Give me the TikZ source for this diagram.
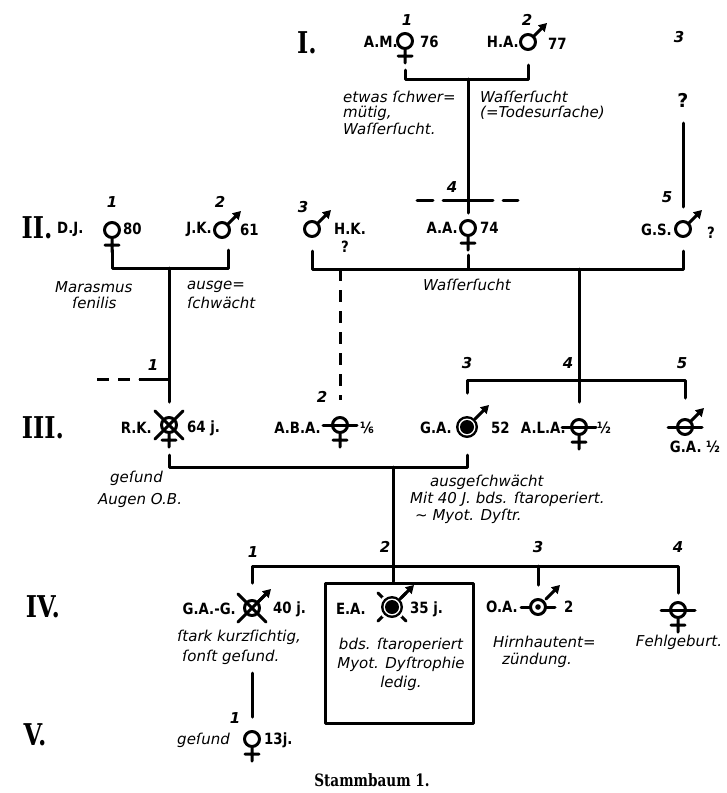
\documentclass[tikz,border=0pt]{standalone}
\usepackage{fontspec}
\newfontfamily\namefont{DejaVu Sans}
\newfontfamily\lblfont[FakeStretch=0.86]{DejaVu Sans}
\newfontfamily\genfont[FakeStretch=0.8]{DejaVu Serif}
\usetikzlibrary{arrows.meta}

\begin{document}
\begin{tikzpicture}[x=1pt, y=-1pt, line join=round, line cap=round, >={Triangle[length=8pt,width=9pt]},
    ln/.style={line width=3pt},
    dashln/.style={line width=3pt, line cap=butt, dash pattern=on 12pt off 9pt},
    lbl/.style={font=\lblfont\bfseries\fontsize{15.5}{16}\selectfont, inner sep=0pt},
    nr/.style={font=\namefont\bfseries\itshape\fontsize{15}{15}\selectfont, inner sep=0pt},
    note/.style={font=\namefont\itshape\fontsize{15}{16}\selectfont, inner sep=0pt, anchor=west},
    gen/.style={font=\genfont\bfseries\fontsize{30}{30}\selectfont, inner sep=0pt},
    female/.pic={\draw[ln] (0,0) circle (7.5) (0,7.5) -- (0,22) (-7,15) -- (7,15);},
    male/.pic={\draw[ln] (0,0) circle (7.5); \draw[ln,->] (5.5,-5.5) -- (19,-19);},
    marrow/.pic={\draw[ln,->] (8,-8) -- (22,-22);},
    blackring/.pic={\fill (0,0) circle (11); \fill[white] (0,0) circle (8.5); \fill (0,0) circle (7);},
    xout/.pic={\draw[ln] (-14,-14) -- (14,14) (-14,14) -- (14,-14);},
    hbar/.pic={\draw[ln] (-17,0) -- (17,0);}]
    \useasboundingbox (0,0) rectangle (727,793);

    % generations
    \foreach \t/\x/\y [count=\k] in {I./307/43, II./37/228, III./43/428, IV./43/607, V./35/735}
        \node[gen] (gen\k) at (\x,\y) {\t};

    % persons
    \coordinate (I1) at (405,41);
    \coordinate (I2) at (528,42);
    \coordinate (II1) at (112,230);
    \coordinate (II2) at (222,230);
    \coordinate (II3) at (312,229);
    \coordinate (II4) at (468,228);
    \coordinate (II5) at (683,229);
    \coordinate (III1) at (169,425);
    \coordinate (III2) at (340,425);
    \coordinate (III3) at (467,427);
    \coordinate (III4) at (579,427);
    \coordinate (III5) at (685,427);
    \coordinate (IV1) at (252,608);
    \coordinate (IV2) at (392,607);
    \coordinate (IV3) at (538,607);
    \coordinate (IV4) at (678,610);
    \coordinate (V1) at (252,739);
    % bars
    \coordinate (m1) at (468,79);
    \coordinate (m2) at (169,268);
    \coordinate (s2) at (579,269);
    \coordinate (d2) at (340,269);
    \coordinate (s3) at (579,380);
    \coordinate (c1) at (169,379);
    \coordinate (m3) at (393,467);
    \coordinate (m4) at (393,566);

    \pic at (I1) {female};
    \pic at (I2) {male};
    \pic at (II1) {female};
    \pic at (II2) {male};
    \pic at (II3) {male};
    \pic at (II4) {female};
    \pic at (II5) {male};
    \pic at (III1) {xout}; \pic at (III1) {female};
    \pic at (III2) {female}; \pic at (III2) {hbar};
    \pic at (III3) {blackring}; \pic at (III3) {marrow};
    \pic at (III4) {female}; \pic at (III4) {hbar};
    \pic at (III5) {male}; \pic at (III5) {hbar};
    \pic at (IV1) {xout}; \pic at (IV1) {male};
    \pic at (IV2) {xout}; \fill[white] (IV2) circle (13.5);
    \pic at (IV2) {blackring}; \pic at (IV2) {marrow};
    \draw[ln] (IV3) circle (7.5); \fill (IV3) circle (2.8);
    \draw[ln] ([xshift=-17pt]IV3) -- ([xshift=-7.5pt]IV3) ([xshift=7.5pt]IV3) -- ([xshift=17pt]IV3);
    \pic at (IV3) {marrow};
    \pic at (IV4) {female}; \pic at (IV4) {hbar};
    \pic at (V1) {female};

    \node[draw, line width=3pt, minimum width=148pt, minimum height=140pt, inner sep=0pt] (box) at (399.5,653) {};

    % lines
    \draw[ln] ([yshift=-29pt]I1) |- (m1) -| ([yshift=-23pt]I2);
    \draw[ln] (m1) -- ([yshift=15pt]II4);
    \foreach \a/\b in {417/433, 443/493, 503/518}
        \draw[ln] (\a,200) -- (\b,200);
    \draw[ln] ([yshift=-20pt]II1) |- (m2) -| ([shift={(6pt,-20pt)}]II2);
    \draw[ln] ([yshift=-22pt]II3) |- (s2) -| ([yshift=-22pt]II5);
    \draw[ln] ([yshift=-27pt]II4) -- (II4 |- s2);
    \draw[ln] (m2) -- ([yshift=23pt]III1);
    \draw[dashln] (c1) ++(-72,0) -- ++(43,0);
    \draw[ln] (c1) -- ++(-29,0);
    \draw[dashln] (d2) -- ([yshift=25pt]III2);
    \draw[ln] (s2) -- (s3);
    \draw[ln] ([yshift=34pt]III3) |- (s3) -| ([yshift=29pt]III5);
    \draw[ln] (s3) -- ([yshift=25pt]III4);
    \draw[ln] ([yshift=-30pt]III1) |- (m3) -| ([yshift=-28pt]III3);
    \draw[ln] (m3) -- (box.north -| m3);
    \draw[ln] ([yshift=25pt]IV1) |- (m4) -| ([yshift=17pt]IV4);
    \draw[ln] (IV3 |- m4) -- ([yshift=22pt]IV3);
    \draw[ln] ([yshift=-65pt]IV1) -- ([yshift=22pt]V1);

    % generation I
    \node[nr] (I1k) at (407,20) {1};
    \node[lbl, anchor=east] (I1n) at (398,42) {A.M.};
    \node[lbl, anchor=west] (I1a) at (420,42) {76};
    \node[nr] (I2k) at (527,20) {2};
    \node[lbl, anchor=east] (I2n) at (519,42) {H.A.};
    \node[lbl, anchor=west] (I2a) at (548,44) {77};
    \node[nr] (I3k) at (679,37) {3};
    \node[lbl, font=\namefont\bfseries\fontsize{19}{19}\selectfont] (I3q) at (683,100) {?};
    \draw[ln] (683,123) -- ([yshift=22pt]II5);
    \node[note] (I1t1) at (343,97) {etwas ſchwer=};
    \node[note] (I1t2) at (343,113) {mütig,};
    \node[note] (I1t3) at (343,129) {Waſſerſucht.};
    \node[note] (I2t1) at (480,97) {Waſſerſucht};
    \node[note] (I2t2) at (480,113) {(=Todesurſache)};

    % generation II
    \node[lbl, anchor=west] (II1n) at (57,229) {D.J.};
    \node[nr] (II1k) at (112,202) {1};
    \node[lbl, anchor=west] (II1a) at (123,229) {80};
    \node[nr] (II2k) at (220,202) {2};
    \node[lbl, anchor=east] (II2n) at (212,229) {J.K.};
    \node[lbl, anchor=west] (II2a) at (240,230) {61};
    \node[note] (II1t1) at (55,287) {Marasmus};
    \node[note] (II1t2) at (72,303) {ſenilis};
    \node[note] (II2t1) at (187,287) {ausge=};
    \node[note] (II2t2) at (187,303) {ſchwächt};
    \node[nr] (II3k) at (303,207) {3};
    \node[lbl, anchor=west] (II3n) at (334,229) {H.K.};
    \node[lbl] (II3q) at (345,247) {?};
    \node[nr] (II4k) at (452,187) {4};
    \node[lbl, anchor=east] (II4n) at (458,228) {A.A.};
    \node[lbl, anchor=west] (II4a) at (480,228) {74};
    \node[note, anchor=center] (II4t) at (467,285) {Waſſerſucht};
    \node[nr] (II5k) at (667,197) {5};
    \node[lbl, anchor=east] (II5n) at (672,230) {G.S.};
    \node[lbl] (II5q) at (711,233) {?};

    % generation III
    \node[nr] (III1k) at (153,365) {1};
    \node[lbl, anchor=east] (III1n) at (152,428) {R.K.};
    \node[lbl, anchor=west] (III1a) at (187,428) {64 j.};
    \node[note] (III1t1) at (110,478) {geſund};
    \node[note] (III1t2) at (98,500) {Augen O.B.};
    \node[nr] (III2k) at (322,397) {2};
    \node[lbl, anchor=east] (III2n) at (321,428) {A.B.A.};
    \node[lbl, anchor=west] (III2a) at (360,428) {⅙};
    \node[nr] (III3k) at (467,363) {3};
    \node[lbl, anchor=east] (III3n) at (452,428) {G.A.};
    \node[lbl, anchor=west] (III3a) at (491,428) {52};
    \node[note] (III3t1) at (430,482) {ausgeſchwächt};
    \node[note] (III3t2) at (410,499) {Mit 40 J. bds. ſtaroperiert.};
    \node[note] (III3t3) at (415,516) {\textasciitilde{} Myot. Dyſtr.};
    \node[nr] (III4k) at (568,363) {4};
    \node[lbl, anchor=east] (III4n) at (566,428) {A.L.A.};
    \node[lbl, anchor=west] (III4a) at (597,428) {½};
    \node[nr] (III5k) at (682,363) {5};
    \node[lbl] (III5n) at (695,447) {G.A. ½};

    % generation IV
    \node[nr] (IV1k) at (253,552) {1};
    \node[lbl, anchor=east] (IV1n) at (236,609) {G.A.-G.};
    \node[lbl, anchor=west] (IV1a) at (273,609) {40 j.};
    \node[note] (IV1t1) at (177,637) {ſtark kurzſichtig,};
    \node[note] (IV1t2) at (182,657) {ſonſt geſund.};
    \node[nr] (IV2k) at (385,547) {2};
    \node[lbl, anchor=east] (IV2n) at (366,609) {E.A.};
    \node[lbl, anchor=west] (IV2a) at (410,609) {35 j.};
    \node[note, anchor=center] (IV2t1) at (401,645) {bds. ſtaroperiert};
    \node[note, anchor=center] (IV2t2) at (401,664) {Myot. Dyſtrophie};
    \node[note, anchor=center] (IV2t3) at (401,683) {ledig.};
    \node[nr] (IV3k) at (538,547) {3};
    \node[lbl, anchor=east] (IV3n) at (518,607) {O.A.};
    \node[lbl, anchor=west] (IV3a) at (564,607) {2};
    \node[note] (IV3t1) at (493,642) {Hirnhautent=};
    \node[note] (IV3t2) at (502,660) {zündung.};
    \node[nr] (IV4k) at (678,547) {4};
    \node[note, anchor=center] (IV4t) at (679,642) {Fehlgeburt.};

    % generation V
    \node[nr] (V1k) at (235,718) {1};
    \node[note, anchor=east] (V1t) at (230,740) {geſund};
    \node[lbl, anchor=west] (V1a) at (264,740) {13j.};

    \node[font=\genfont\bfseries\fontsize{17}{17}\selectfont, inner sep=0pt] (title) at (372,780) {Stammbaum 1.};
\end{tikzpicture}
\end{document}
